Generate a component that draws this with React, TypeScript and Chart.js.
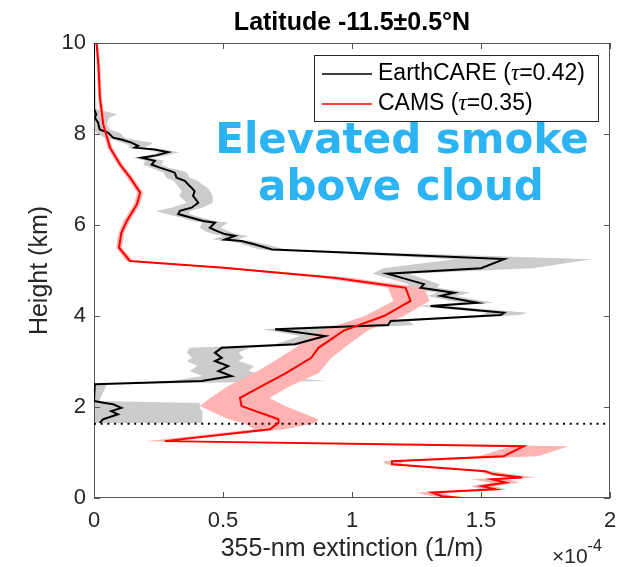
import React, { useEffect, useRef } from 'react';
import { Chart, registerables } from 'chart.js';

Chart.register(...registerables);

// EarthCARE profile (extinction in units of 1e-4 1/m)
const ecHeight = [10.0, 8.55, 8.43, 8.36, 8.25, 8.10, 8.03, 7.92, 7.88, 7.81, 7.74, 7.70, 7.66, 7.60, 7.53, 7.48, 7.41, 7.33, 7.26, 7.19, 7.15, 7.04, 6.97, 6.89, 6.82, 6.74, 6.64, 6.49, 6.38, 6.31, 6.24, 6.16, 6.09, 6.05, 5.94, 5.87, 5.80, 5.76, 5.68, 5.65, 5.57, 5.46, 5.25, 5.05, 4.93, 4.70, 4.62, 4.51, 4.44, 4.29, 4.22, 4.07, 4.02, 3.89, 3.80, 3.71, 3.56, 3.38, 3.30, 3.19, 3.08, 3.01, 2.90, 2.79, 2.68, 2.57, 2.50, 2.13, 2.09, 2.06, 1.98, 1.91, 1.84, 1.73, 1.65];
const ecExt = [0, 0, 0.009, 0.003, 0.016, 0.022, 0.054, 0.074, 0.106, 0.145, 0.171, 0.158, 0.236, 0.287, 0.242, 0.184, 0.236, 0.223, 0.255, 0.294, 0.313, 0.320, 0.352, 0.365, 0.378, 0.390, 0.384, 0.404, 0.378, 0.333, 0.326, 0.378, 0.423, 0.469, 0.449, 0.475, 0.507, 0.546, 0.507, 0.572, 0.624, 0.690, 1.590, 1.500, 1.137, 1.279, 1.266, 1.395, 1.344, 1.486, 1.305, 1.590, 1.577, 1.150, 1.140, 0.702, 0.896, 0.779, 0.495, 0.469, 0.495, 0.469, 0.520, 0.482, 0.533, 0.417, 0.003, 0, 0.042, 0.074, 0.106, 0.067, 0.093, 0.035, 0.022];
const ecLow = [0, 0, 0, 0, 0, 0, 0.01, 0.04, 0.07, 0.11, 0.14, 0.13, 0.20, 0.25, 0.21, 0.15, 0.20, 0.19, 0.22, 0.25, 0.27, 0.28, 0.31, 0.32, 0.33, 0.34, 0.33, 0.36, 0.30, 0.24, 0.28, 0.34, 0.38, 0.42, 0.41, 0.43, 0.46, 0.50, 0.46, 0.53, 0.58, 0.64, 1.40, 1.12, 1.08, 1.22, 1.21, 1.33, 1.29, 1.42, 1.25, 1.52, 1.50, 1.08, 0.96, 0.65, 0.80, 0.70, 0.37, 0.36, 0.38, 0.36, 0.40, 0.37, 0.42, 0.30, 0, 0, 0, 0, 0, 0, 0, 0, 0];
const ecHigh = [0, 0.01, 0.09, 0.06, 0.05, 0.06, 0.10, 0.12, 0.15, 0.23, 0.21, 0.19, 0.27, 0.33, 0.28, 0.22, 0.27, 0.26, 0.29, 0.34, 0.36, 0.37, 0.40, 0.42, 0.44, 0.45, 0.46, 0.46, 0.42, 0.37, 0.37, 0.42, 0.47, 0.52, 0.49, 0.52, 0.55, 0.60, 0.55, 0.61, 0.67, 0.74, 1.93, 1.70, 1.22, 1.34, 1.33, 1.46, 1.40, 1.55, 1.37, 1.68, 1.65, 1.22, 1.24, 0.95, 1.00, 0.88, 0.60, 0.56, 0.58, 0.56, 0.62, 0.60, 0.68, 0.90, 0.05, 0.02, 0.41, 0.41, 0.41, 0.42, 0.42, 0.42, 0.42];

// CAMS profile
const camsHeight = [10.0, 9.53, 8.80, 8.21, 7.70, 7.33, 7.04, 6.71, 6.45, 6.09, 5.83, 5.50, 5.21, 5.06, 4.84, 4.62, 4.33, 4.00, 3.68, 3.30, 3.08, 2.74, 2.46, 2.20, 2.02, 1.73, 1.65, 1.51, 1.25, 1.14, 0.92, 0.81, 0.74, 0.59, 0.52, 0.45, 0.41, 0.34, 0.26, 0.19, 0.12, 0.04, 0.00];
const camsExt = [0.010, 0.017, 0.023, 0.036, 0.062, 0.101, 0.140, 0.179, 0.166, 0.127, 0.106, 0.097, 0.139, 0.502, 0.930, 1.208, 1.227, 1.124, 0.968, 0.870, 0.842, 0.742, 0.650, 0.566, 0.572, 0.715, 0.715, 0.682, 0.274, 1.666, 1.588, 1.155, 1.155, 1.517, 1.550, 1.660, 1.543, 1.595, 1.504, 1.556, 1.310, 1.349, 1.427];
const camsLow = [0.005, 0.010, 0.016, 0.028, 0.052, 0.090, 0.128, 0.167, 0.154, 0.115, 0.095, 0.086, 0.125, 0.47, 0.88, 1.14, 1.16, 1.05, 0.88, 0.78, 0.72, 0.62, 0.52, 0.45, 0.41, 0.52, 0.58, 0.62, 0.20, 1.62, 1.49, 1.12, 1.13, 1.49, 1.52, 1.60, 1.46, 1.54, 1.46, 1.50, 1.25, 1.31, 1.40];
const camsHigh = [0.015, 0.024, 0.030, 0.044, 0.072, 0.112, 0.152, 0.191, 0.178, 0.139, 0.117, 0.108, 0.153, 0.54, 0.99, 1.28, 1.30, 1.20, 1.06, 0.97, 0.92, 0.87, 0.76, 0.68, 0.74, 0.87, 0.86, 0.74, 0.30, 1.84, 1.72, 1.20, 1.19, 1.54, 1.62, 1.71, 1.60, 1.65, 1.55, 1.60, 1.35, 1.39, 1.45];

const cloudTop = 1.63;
const xTicks = [0, 0.5, 1, 1.5, 2];
const yTicks = [0, 2, 4, 6, 8, 10];
const legendLabels = ['EarthCARE (', 'CAMS ('];
const legendTau = ['=0.42)', '=0.35)'];

const SANS = '"Liberation Sans", Arial, sans-serif';
const AX = '#262626';

function drawBand(chart: any, hs: number[], lo: number[], hi: number[], color: string) {
  const { ctx, scales } = chart;
  const x = scales.x, y = scales.y;
  ctx.beginPath();
  hs.forEach((h, i) => {
    const px = x.getPixelForValue(lo[i]);
    const py = y.getPixelForValue(h);
    if (i === 0) ctx.moveTo(px, py); else ctx.lineTo(px, py);
  });
  for (let i = hs.length - 1; i >= 0; i--) {
    ctx.lineTo(x.getPixelForValue(hi[i]), y.getPixelForValue(hs[i]));
  }
  ctx.closePath();
  ctx.fillStyle = color;
  ctx.fill();
}

const decorPlugin = {
  id: 'decor',
  beforeDatasetsDraw(chart: any) {
    const { ctx, chartArea: a, scales } = chart;
    ctx.save();
    ctx.beginPath();
    ctx.rect(a.left, a.top, a.right - a.left, a.bottom - a.top);
    ctx.clip();
    drawBand(chart, ecHeight, ecLow, ecHigh, '#cccccc');
    drawBand(chart, camsHeight, camsLow, camsHigh, '#ffb3b3');
    ctx.restore();

    ctx.save();
    ctx.strokeStyle = '#555';
    ctx.lineWidth = 1;
    ctx.strokeRect(a.left + 0.5, a.top + 0.5, a.right - a.left - 1, a.bottom - a.top - 1);
    ctx.beginPath();
    xTicks.forEach((v) => {
      const px = Math.round(scales.x.getPixelForValue(v)) + 0.5;
      ctx.moveTo(px, a.bottom); ctx.lineTo(px, a.bottom - 6);
      ctx.moveTo(px, a.top); ctx.lineTo(px, a.top + 6);
    });
    yTicks.forEach((v) => {
      const py = Math.round(scales.y.getPixelForValue(v)) + 0.5;
      ctx.moveTo(a.left, py); ctx.lineTo(a.left + 6, py);
      ctx.moveTo(a.right, py); ctx.lineTo(a.right - 6, py);
    });
    ctx.stroke();
    ctx.restore();
  },
  afterDatasetsDraw(chart: any) {
    const { ctx, chartArea: a } = chart;
    const cx = (a.left + a.right) / 2;
    ctx.save();
    // annotation
    ctx.fillStyle = '#2bb3f3';
    ctx.font = 'bold 42px "DejaVu Sans", sans-serif';
    ctx.textAlign = 'center';
    ctx.textBaseline = 'alphabetic';
    ctx.fillText('Elevated smoke', 402, 153);
    ctx.fillText('above cloud', 401, 200);

    // legend
    const lx = 314, ly = 55, lw = 284, lh = 66;
    ctx.fillStyle = '#fff';
    ctx.fillRect(lx, ly, lw, lh);
    ctx.strokeStyle = AX;
    ctx.lineWidth = 1;
    ctx.strokeRect(lx + 0.5, ly + 0.5, lw, lh);
    const rows = [74, 104];
    const cols = ['#000000', '#ff0000'];
    rows.forEach((ry, i) => {
      ctx.strokeStyle = cols[i];
      ctx.lineWidth = 1.5;
      ctx.beginPath();
      ctx.moveTo(322, ry); ctx.lineTo(372, ry);
      ctx.stroke();
      ctx.fillStyle = '#000';
      ctx.textAlign = 'left';
      ctx.textBaseline = 'middle';
      ctx.font = `23px ${SANS}`;
      let tx = 378;
      ctx.fillText(legendLabels[i], tx, ry);
      tx += ctx.measureText(legendLabels[i]).width;
      ctx.font = 'italic 23px "Liberation Serif", serif';
      ctx.fillText('τ', tx, ry);
      tx += ctx.measureText('τ').width;
      ctx.font = `23px ${SANS}`;
      ctx.fillText(legendTau[i], tx, ry);
    });

    // title
    ctx.fillStyle = '#000';
    ctx.textAlign = 'center';
    ctx.textBaseline = 'alphabetic';
    ctx.font = `bold 25px ${SANS}`;
    ctx.fillText('Latitude -11.5±0.5°N', cx, 30);

    // axis titles
    ctx.fillStyle = AX;
    ctx.font = `25px ${SANS}`;
    ctx.textBaseline = 'middle';
    ctx.fillText('355-nm extinction (1/m)', cx, 549);
    ctx.save();
    ctx.translate(40, (a.top + a.bottom) / 2);
    ctx.rotate(-Math.PI / 2);
    ctx.fillText('Height (km)', 0, 0);
    ctx.restore();

    // exponent
    ctx.textAlign = 'left';
    ctx.textBaseline = 'alphabetic';
    ctx.font = `21px ${SANS}`;
    const ex = 552;
    ctx.fillText('×10', ex, 563);
    const w = ctx.measureText('×10').width;
    ctx.font = `16px ${SANS}`;
    ctx.fillText('-4', ex + w, 551);
    ctx.restore();
  },
};

export default function App() {
  const ref = useRef<HTMLCanvasElement | null>(null);
  useEffect(() => {
    document.body.style.margin = '0';
    const canvas = ref.current;
    if (!canvas) return;
    const chart = new Chart(canvas, {
      type: 'line',
      data: {
        datasets: [
          {
            label: 'CAMS',
            data: camsHeight.map((h, i) => ({ x: camsExt[i], y: h })),
            borderColor: '#ff0000',
            borderWidth: 2,
            pointRadius: 0,
            fill: false,
            tension: 0,
          },
          {
            label: 'EarthCARE',
            data: ecHeight.map((h, i) => ({ x: ecExt[i], y: h })),
            borderColor: '#000000',
            borderWidth: 2,
            pointRadius: 0,
            fill: false,
            tension: 0,
          },
          {
            label: 'cloud top',
            data: [{ x: xTicks[0], y: cloudTop }, { x: xTicks[xTicks.length - 1], y: cloudTop }],
            borderColor: '#000000',
            borderWidth: 2,
            borderDash: [2, 4.7],
            pointRadius: 0,
            fill: false,
          },
        ],
      },
      options: {
        responsive: false,
        maintainAspectRatio: false,
        animation: false,
        devicePixelRatio: 1,
        events: [],
        layout: { padding: { top: 43, right: 20, left: 0, bottom: 0 } },
        plugins: {
          legend: { display: false },
          title: { display: false },
          tooltip: { enabled: false },
        },
        scales: {
          x: {
            type: 'linear',
            min: 0,
            max: 2,
            grid: { display: false, drawTicks: false },
            border: { display: false },
            afterBuildTicks: (s: any) => { s.ticks = xTicks.map((v) => ({ value: v })); },
            afterFit: (s: any) => { s.height = 69; },
            ticks: {
              padding: 10,
              color: AX,
              font: { family: SANS, size: 22 },
              maxRotation: 0,
              callback: (v: any) => String(v),
            },
          },
          y: {
            type: 'linear',
            min: 0,
            max: 10,
            grid: { display: false, drawTicks: false },
            border: { display: false },
            afterBuildTicks: (s: any) => { s.ticks = yTicks.map((v) => ({ value: v })); },
            afterFit: (s: any) => { s.width = 94; },
            ticks: {
              padding: 8,
              color: AX,
              font: { family: SANS, size: 22 },
              callback: (v: any) => String(v),
            },
          },
        },
      },
      plugins: [decorPlugin],
    });
    return () => chart.destroy();
  }, []);
  return (
    <div style={{ width: 630, height: 567 }}>
      <canvas ref={ref} width={630} height={567} style={{ display: 'block' }} />
    </div>
  );
}
